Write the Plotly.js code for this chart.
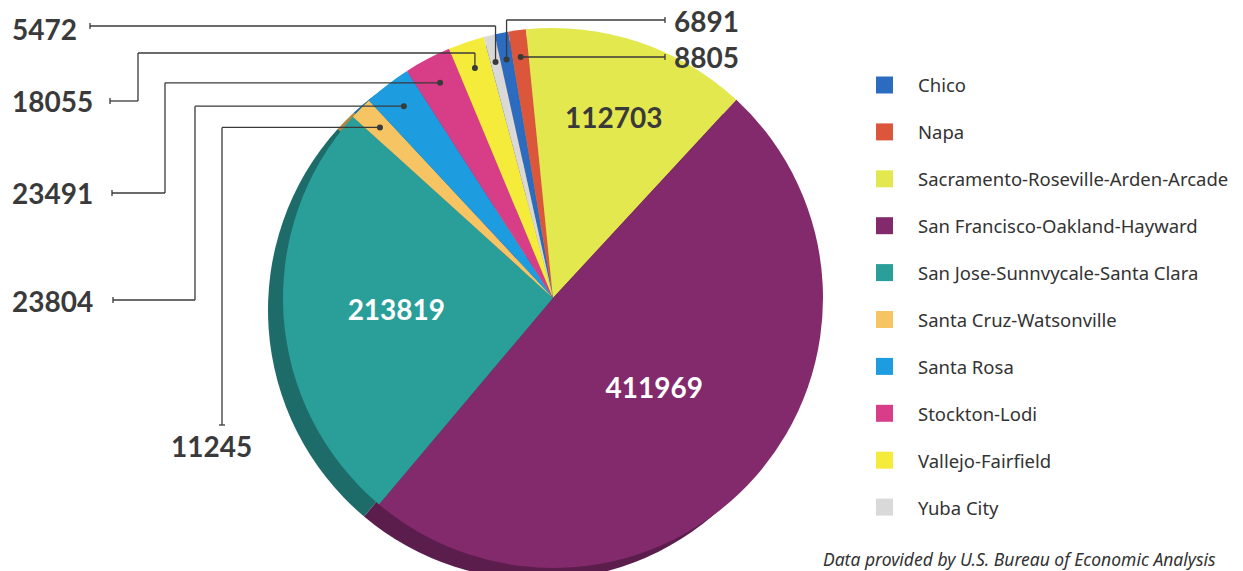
<!DOCTYPE html>
<html>
<head>
<meta charset="utf-8">
<script src="https://cdn.plot.ly/plotly-3.0.1.min.js"></script>
<style>
html,body{margin:0;padding:0;overflow:hidden;background:#fff}
#chart{width:1243px;height:596px}
</style>
</head>
<body>
<div id="chart"></div>
<script>
// ---- data ----
const labels = ['Chico','Napa','Sacramento-Roseville-Arden-Arcade','San Francisco-Oakland-Hayward','San Jose-Sunnvycale-Santa Clara','Santa Cruz-Watsonville','Santa Rosa','Stockton-Lodi','Vallejo-Fairfield','Yuba City'];
const values = [6891, 8805, 112703, 411969, 213819, 11245, 23804, 23491, 18055, 5472];
const insideLabelled = [false, false, true, true, true, false, false, false, false, false];

// ---- styles ----
const colors = ['#2b6cc0','#dc563c','#e4e84f','#822a6b','#2a9e98','#f6c463','#1e9ce0','#d83d87','#f5eb3b','#d9d9d9'];
const shadeColors = ['#1d4a85','#99392a','#9ea236','#5b1d4b','#1d6c69','#aa8844','#146d9c','#962a5e','#aaa329','#979797'];
const insideTextColors = ['#333','#333','#3a3a3a','#ffffff','#ffffff','#333','#333','#333','#333','#333'];

// ---- geometry of the figure ----
const W = 1243, H = 596;
const CX = 553, CY = 298, R = 270, ROT = -12.5;
const SHX = -15, SHY = 12;
const px = x => x / W, py = y => 1 - y / H;

const total = values.reduce((a, b) => a + b, 0);
let acc = 0;
const mid = values.map(v => { const m = ROT + (acc + v / 2) / total * 360; acc += v; return m; });
function ray(i, f) { const a = mid[i] * Math.PI / 180; return [CX + f * R * Math.sin(a), CY - f * R * Math.cos(a)]; }
function rayAtY(i, y) { const a = mid[i] * Math.PI / 180; return [CX + (CY - y) * Math.tan(a), y]; }

const faceDomain = { x: [px(CX - R), px(CX + R)], y: [py(CY + R), py(CY - R)] };
const shadeDomain = { x: [px(CX - R + SHX), px(CX + R + SHX)], y: [py(CY + R + SHY), py(CY - R + SHY)] };

const shadow = {
  type: 'pie', labels: labels, values: values, sort: false, direction: 'clockwise', rotation: ROT,
  marker: { colors: shadeColors, line: { width: 0 } }, textinfo: 'none', hoverinfo: 'none',
  domain: shadeDomain, showlegend: false
};
const face = {
  type: 'pie', labels: labels, values: values, sort: false, direction: 'clockwise', rotation: ROT,
  marker: { colors: colors, line: { width: 0 } },
  texttemplate: insideLabelled.map(s => s ? '<b>%{value:d}</b>' : ''),
  textposition: 'inside', insidetextorientation: 'horizontal',
  textfont: { family: 'Lato', size: 28, color: insideTextColors },
  hoverinfo: 'none', domain: faceDomain, showlegend: false
};

// ---- outside labels with leader lines ----
const outer = [
  { i: 9, tx: 10, ty: 29, xa: 'left', route: 'top', lineY: 26, startX: 90 },
  { i: 0, tx: 672, ty: 21, xa: 'left', route: 'top', lineY: 20, startX: 665 },
  { i: 1, tx: 672, ty: 57, xa: 'left', route: 'flat', lineY: 57, startX: 665 },
  { i: 8, tx: 10, ty: 101, xa: 'left', route: 'elbowTop', lineY: 101, startX: 110, cornerX: 138, topY: 53 },
  { i: 7, tx: 10, ty: 193, xa: 'left', route: 'elbow', lineY: 193, startX: 112, cornerX: 165 },
  { i: 6, tx: 10, ty: 301, xa: 'left', route: 'elbow', lineY: 300, startX: 113, cornerX: 195 },
  { i: 5, tx: 212, ty: 446, xa: 'center', route: 'vertical', startY: 425, cornerX: 222 }
];

const shapes = [], annotations = [];
const lineStyle = { color: '#3a3a3a', width: 1.3 };
function seg(x0, y0, x1, y1) {
  shapes.push({ type: 'line', xref: 'paper', yref: 'paper', x0: px(x0), y0: py(y0), x1: px(x1), y1: py(y1), line: lineStyle });
}
function dot(x, y) {
  shapes.push({ type: 'circle', xref: 'paper', yref: 'paper', x0: px(x - 3), x1: px(x + 3), y0: py(y + 3), y1: py(y - 3), fillcolor: '#3a3a3a', line: { width: 0 } });
}

outer.forEach(o => {
  let d;
  if (o.route === 'top') {
    d = ray(o.i, 0.9);
    seg(o.startX, o.lineY, d[0], o.lineY); seg(d[0], o.lineY, d[0], d[1]);
    seg(o.startX, o.lineY - 3, o.startX, o.lineY + 3);
  } else if (o.route === 'flat') {
    d = rayAtY(o.i, o.lineY);
    seg(o.startX, o.lineY, d[0], d[1]);
    seg(o.startX, o.lineY - 3, o.startX, o.lineY + 3);
  } else if (o.route === 'elbowTop') {
    d = ray(o.i, 0.9);
    seg(o.startX, o.lineY, o.cornerX, o.lineY); seg(o.cornerX, o.lineY, o.cornerX, o.topY);
    seg(o.cornerX, o.topY, d[0], o.topY); seg(d[0], o.topY, d[0], d[1]);
    seg(o.startX, o.lineY - 3, o.startX, o.lineY + 3);
  } else if (o.route === 'elbow') {
    d = ray(o.i, 0.9);
    seg(o.startX, o.lineY, o.cornerX, o.lineY); seg(o.cornerX, o.lineY, o.cornerX, d[1]);
    seg(o.cornerX, d[1], d[0], d[1]);
    seg(o.startX, o.lineY - 3, o.startX, o.lineY + 3);
  } else {
    d = ray(o.i, 0.9);
    seg(o.cornerX, o.startY, o.cornerX, d[1]); seg(o.cornerX, d[1], d[0], d[1]);
    seg(o.cornerX - 3, o.startY, o.cornerX + 3, o.startY);
  }
  dot(d[0], d[1]);
  annotations.push({
    xref: 'paper', yref: 'paper', x: px(o.tx), y: py(o.ty), xanchor: o.xa, yanchor: 'middle',
    text: '<b>' + String(values[o.i]) + '</b>', showarrow: false,
    font: { family: 'Lato', size: 28, color: '#3a3a3a' }
  });
});

// ---- legend ----
labels.forEach((lab, i) => {
  const y = 85 + i * 46.9;
  shapes.push({ type: 'rect', xref: 'paper', yref: 'paper', x0: px(876), x1: px(893), y0: py(y + 8.5), y1: py(y - 8.5), fillcolor: colors[i], line: { width: 0 } });
  annotations.push({ xref: 'paper', yref: 'paper', x: px(916), y: py(y), xanchor: 'left', yanchor: 'middle', text: lab, showarrow: false, font: { family: 'Noto Sans', size: 18.5, color: '#333' } });
});

annotations.push({
  xref: 'paper', yref: 'paper', x: px(821), y: py(559), xanchor: 'left', yanchor: 'middle',
  text: '<i>Data provided by U.S. Bureau of Economic Analysis</i>', showarrow: false,
  font: { family: 'Noto Sans', size: 17.5, color: '#333' }
});

const layout = {
  width: W, height: H, margin: { l: 0, r: 0, t: 0, b: 0 },
  paper_bgcolor: '#ffffff', showlegend: false,
  shapes: shapes, annotations: annotations
};
Plotly.newPlot('chart', [shadow, face], layout, { displayModeBar: false, staticPlot: true });
</script>
</body>
</html>
